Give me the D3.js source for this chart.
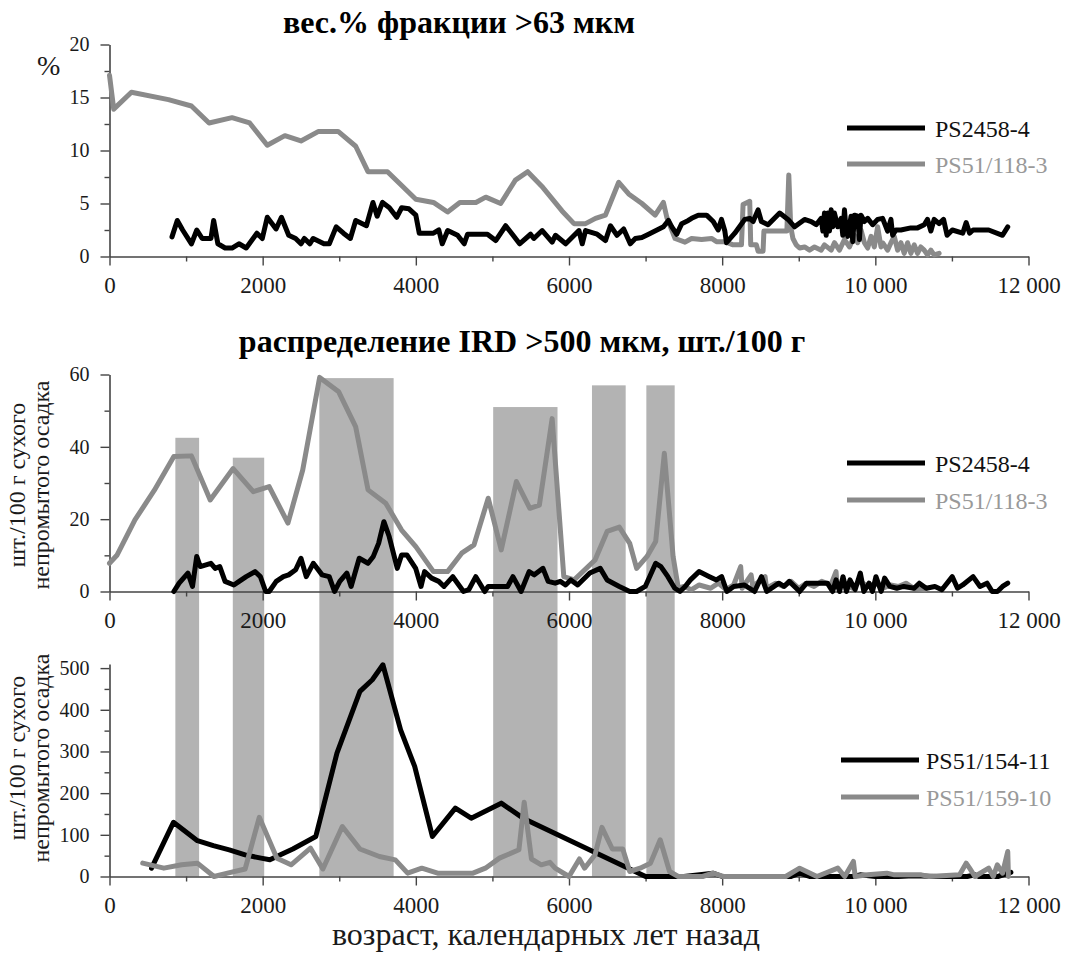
<!DOCTYPE html>
<html><head><meta charset="utf-8">
<script src="https://cdn.jsdelivr.net/npm/d3@7"></script>
<style>
body{margin:0;background:#fff;}
svg{display:block;}
svg text{font-family:"Liberation Serif","Times New Roman",serif;}
</style></head>
<body><svg id="c" width="1066" height="953"></svg>
<script>
// ---------- DATA ----------
const xTickValues = [0,2000,4000,6000,8000,10000,12000];
const xMinorTicks = [1000,3000,5000,7000,9000,11000];
const topYTicks = [0,5,10,15,20];
const midYTicks = [0,20,40,60];
const botYTicks = [0,100,200,300,400,500];

const titleTop = "вес.% фракции >63 мкм";
const titleMid = "распределение IRD >500 мкм, шт./100 г";
const xTitle = "возраст, календарных лет назад";
const yTitleLines = ["шт./100 г сухого","непромытого осадка"];
const legendTop = ["PS2458-4","PS51/118-3"];
const legendBot = ["PS51/154-11","PS51/159-10"];

// IRD shaded intervals: [start, end, top value in middle panel]
const bandStart = [860,1610,2740,5010,6300,7010];
const bandEnd   = [1170,2020,3710,5850,6740,7380];
const bandTop   = [42.5,37,59,51,57,57];

// Top panel: weight % >63 µm
const topBlackAge = [816,885,955,1070,1140,1210,1325,1360,1415,1510,1600,1690,1785,1925,1995,2060,2175,2245,2340,2430,2500,2545,2615,2660,2800,2870,2960,3055,3145,3215,3355,3440,3495,3565,3655,3750,3815,3910,4000,4045,4230,4300,4345,4416,4545,4632,4675,4935,5043,5173,5260,5355,5498,5541,5650,5780,5823,5957,6130,6173,6216,6368,6476,6541,6627,6714,6800,6866,6952,7039,7233,7298,7342,7407,7472,7558,7601,7688,7796,7883,7948,7991,8035,8056,8165,8295,8360,8404,8469,8512,8599,8751,8860,8946,9076,9163,9228,9293,9315,9336,9358,9380,9401,9423,9445,9466,9510,9553,9575,9597,9618,9640,9683,9705,9727,9770,9792,9813,9857,9900,9965,10030,10095,10160,10204,10226,10269,10334,10464,10551,10638,10681,10725,10768,10833,10891,10937,11005,11141,11186,11231,11276,11480,11661,11729];
const topBlackVal = [1.85,3.4,2.5,1.2,2.5,1.7,1.7,3.4,1.2,0.8,0.8,1.2,0.8,2.2,1.7,3.7,2.6,3.7,2.0,1.7,1.2,1.7,1.2,1.7,1.2,1.2,2.8,2.2,1.7,3.4,2.9,5.1,3.8,5.1,4.6,3.7,4.6,4.5,3.9,2.2,2.2,2.5,1.2,2.45,2.0,1.2,2.1,2.1,1.5,2.9,2.1,1.2,2.1,1.7,2.45,1.35,2.0,1.2,2.45,1.2,2.45,2.1,1.5,2.9,2.0,2.6,1.2,1.7,1.8,2.1,2.8,3.4,2.8,2.1,3.1,3.4,3.6,3.9,3.9,3.3,2.5,3.5,2.4,1.3,2.2,3.5,3.6,3.3,4.4,3.3,3.0,4.1,3.5,2.8,3.5,3.3,3.0,3.6,2.4,4.1,2.0,4.1,2.4,4.4,2.8,4.1,2.8,3.6,2.0,4.4,2.5,1.9,3.8,1.4,3.9,3.8,1.6,3.9,3.3,3.6,3.0,3.5,3.6,2.4,3.5,2.0,2.5,2.5,2.7,2.7,3.0,3.5,2.4,3.5,3.1,3.5,2.0,2.5,2.2,3.2,2.2,2.5,2.5,2.0,2.8];

const topGrayAge = [0,55,286,770,1070,1300,1600,1830,2060,2290,2500,2730,2985,3215,3375,3630,4000,4230,4415,4575,4784,4913,5108,5300,5460,5660,5909,6065,6216,6346,6476,6649,6779,6952,7125,7233,7277,7385,7515,7601,7731,7861,7926,8035,8143,8252,8273,8360,8373,8447,8469,8534,8545,8577,8729,8845,8870,8895,8924,8967,9011,9076,9141,9206,9293,9336,9423,9466,9531,9597,9662,9727,9770,9813,9857,9900,9944,9987,10030,10074,10095,10160,10204,10247,10291,10334,10377,10421,10464,10508,10551,10594,10638,10681,10725,10768,10833];
const topGrayVal = [17.1,13.9,15.5,14.8,14.2,12.6,13.1,12.6,10.5,11.4,10.9,11.8,11.8,10.4,8.0,8.0,5.4,5.1,4.2,5.1,5.1,5.6,5.0,7.2,8.0,6.5,4.3,3.1,3.1,3.6,3.9,7.0,5.9,5.0,3.9,5.1,3.7,1.7,1.35,1.7,1.6,1.7,1.4,1.4,1.1,1.1,4.9,5.2,1.1,1.1,0.5,0.5,2.4,2.4,2.4,2.4,7.7,2.8,1.7,1.1,0.8,0.9,0.6,0.9,0.6,1.1,0.6,1.3,0.6,1.6,0.9,2.0,1.3,2.5,1.3,0.8,1.9,0.9,2.8,0.9,1.3,0.6,1.3,1.9,0.6,1.3,0.3,1.3,0.3,1.1,0.3,0.9,0.6,0.15,0.6,0.15,0.3];

// Middle panel: IRD >500 µm
const midBlackAge = [840,909,1024,1084,1139,1185,1324,1380,1440,1509,1624,1693,1785,1900,1970,2039,2085,2177,2270,2339,2431,2500,2569,2661,2776,2869,2938,3007,3099,3155,3261,3376,3445,3514,3583,3652,3758,3814,3883,3998,4068,4114,4206,4299,4368,4483,4622,4691,4783,4899,4945,5198,5268,5374,5479,5547,5660,5728,5819,5887,5955,6023,6113,6272,6408,6498,6657,6793,6883,6996,7132,7200,7291,7381,7449,7517,7585,7698,7834,7925,7993,8061,8151,8287,8423,8514,8582,8740,8808,8876,9012,9102,9238,9374,9442,9487,9533,9578,9623,9669,9736,9804,9850,9918,9963,10008,10076,10121,10189,10280,10370,10506,10574,10665,10778,10869,11005,11073,11141,11276,11367,11458,11526,11594,11661,11729];
const midBlackVal = [0,2.3,5.1,1.4,9.7,6.9,7.8,6.4,6.9,2.8,1.8,2.8,4.1,5.5,4.1,0,0,2.8,4.1,4.6,6,9.2,4.1,7.8,4.6,4.1,0,2.8,5.1,1.4,9.2,7.8,9.7,13.3,19.3,15.2,6.4,10.1,10.1,6.4,1.4,5.5,3.7,2.8,1.4,4.1,0,0.5,4.1,0,1.4,1.4,4.1,0,5.5,4.6,6.4,2.8,2.3,2.8,1.8,3.2,1.8,5.1,6.4,3.2,1.4,0,0,1.4,7.8,6.9,4.1,0.9,0,1.4,3.2,5.5,4.1,3.2,4.1,0,1.4,1.8,0,4.1,0,2.3,1.4,2.8,0,2.3,2.3,2.3,0,3.2,0,4.1,0,3.2,0.5,5.1,0,2.3,0,4.1,0,3.7,1.4,0.9,1.4,0.9,2.3,0.9,1.4,0.5,4.1,0.9,1.8,4.1,1.4,2.3,0,0,1.4,2.3];

const midGrayAge = [0,100,332,586,840,1070,1315,1614,1877,2085,2330,2523,2744,2993,3215,3376,3607,3814,4000,4230,4414,4599,4760,4945,5115,5313,5489,5613,5780,5932,6068,6340,6498,6657,6793,6883,7019,7132,7245,7359,7427,7500,7600,7700,7850,7950,8050,8150,8242,8260,8378,8400,8560,8580,8700,8800,8900,9000,9100,9200,9300,9420,9487,9500,9600,9700,9800,9900,10000,10100,10200,10300,10400,10500,10650];
const midGrayVal = [7.8,10.1,19.8,28,37.3,37.5,25.3,34,27.6,29,18.9,33.6,59.2,55.2,45.5,28.1,24.4,17,12.4,5.5,5.5,10.6,12.9,25.8,11.5,30.4,23,23.9,47.8,4.1,3.2,8.7,16.6,17.8,13.3,6.4,9.7,13.8,38.2,9.7,0.9,1.4,0.5,1.8,0.9,2.3,0.5,1.8,6.9,0.9,4.6,1.4,4.1,0.9,2.3,1.4,2.8,0.9,2.3,1.4,2.8,1.8,5.5,1.4,2.3,0.9,2.8,1.4,2.3,0.9,1.8,1.4,2.3,0.9,0.5];

// Bottom panel
const botBlackAge = [549,835,1148,1356,1564,1771,1979,2094,2232,2394,2694,2970,3270,3432,3570,3801,3985,4216,4516,4723,5115,5400,7000,7500,7880,8000,8900,9010,9150,9700,9800,10000,10300,10500,10800,11200,11300,11350,11600,11700,11770];
const botBlackVal = [20,130,86,74,64,52,44,40,52,66,96,296,444,472,508,352,264,96,164,140,176,140,0,0,8,0,0,8,0,0,4,0,0,2,0,0,4,0,0,6,10];

const botGrayAge = [434,710,941,1148,1365,1541,1771,1956,2186,2371,2625,2786,3040,3270,3524,3732,3893,4078,4285,4539,4746,4908,5092,5346,5415,5510,5638,5751,5819,6000,6136,6204,6340,6430,6566,6702,6793,6928,7064,7191,7313,7427,7744,7879,8015,8830,9012,9238,9510,9600,9714,9737,9900,10150,10250,10600,10700,11100,11186,11231,11300,11480,11540,11593,11661,11729,11738];
const botGrayVal = [32,20,28,32,0,8,18,142,44,28,68,18,120,66,48,40,8,20,8,8,8,20,44,64,178,42,28,34,20,0,42,20,52,118,66,66,12,20,32,88,12,0,0,8,0,0,20,0,20,0,36,0,4,8,4,4,0,4,32,20,0,20,0,28,8,60,0];

// ---------- DRAWING ----------
const svg = d3.select("#c");
const FONT = '"Liberation Serif","Times New Roman",serif';
const BLACK = "#000", GRAY = "#8a8a8a", BAND = "#b3b3b3", AXIS = "#444", TXT = "#1a1a1a";

const x = d3.scaleLinear().domain([0,12000]).range([109.5,1028.5]);
const yTop = d3.scaleLinear().domain([0,20]).range([256.5,44.5]);
const yMid = d3.scaleLinear().domain([0,60]).range([591.5,374.5]);
const yBot = d3.scaleLinear().domain([0,510]).range([876.5,876.5-510*208.4/500]);

const fmtX = d => d >= 10000 ? String(Math.floor(d/1000)) + " " + String(d%1000).padStart(3,"0") : String(d);

svg.append("g").selectAll("rect").data(bandStart.map((s,i)=>({s, e:bandEnd[i], t:bandTop[i]})))
  .join("rect")
  .attr("x", d=>x(d.s)).attr("width", d=>x(d.e)-x(d.s))
  .attr("y", d=>yMid(d.t)).attr("height", d=>yBot(0)-yMid(d.t))
  .attr("fill", BAND);

function drawAxes(y, yTicks, yMinor){
  const g = svg.append("g");
  const y0 = y(0);
  const xa = g.append("g").attr("transform",`translate(0,${y0})`)
    .call(d3.axisBottom(x).tickValues(xTickValues).tickFormat(fmtX).tickSize(9).tickPadding(11).tickSizeOuter(0));
  g.append("g").attr("transform",`translate(0,${y0})`)
    .call(d3.axisBottom(x).tickValues(xMinorTicks).tickFormat("").tickSize(5))
    .select(".domain").remove();
  const ya = g.append("g").attr("transform",`translate(${x(0)},0)`)
    .call(d3.axisLeft(y).tickValues(yTicks).tickSize(9).tickPadding(11).tickSizeOuter(0));
  g.append("g").attr("transform",`translate(${x(0)},0)`)
    .call(d3.axisLeft(y).tickValues(yMinor).tickFormat("").tickSize(5))
    .select(".domain").remove();
  g.selectAll(".domain").attr("stroke",AXIS).attr("stroke-width",1.6);
  g.selectAll(".tick line").attr("stroke",AXIS).attr("stroke-width",1.4);
  xa.selectAll("text").style("font-family",FONT).style("font-size","23px").attr("fill",TXT);
  ya.selectAll("text").style("font-family",FONT).style("font-size","20px").attr("fill",TXT);
  return g;
}
drawAxes(yTop, topYTicks, [2.5,7.5,12.5,17.5]);
drawAxes(yMid, midYTicks, [10,30,50]);
drawAxes(yBot, botYTicks, [50,150,250,350,450]);

function drawLine(ages, vals, y, color){
  const line = d3.line().x(i=>x(ages[i])).y(i=>y(vals[i]));
  svg.append("path").attr("d", line(d3.range(ages.length)))
    .attr("fill","none").attr("stroke",color).attr("stroke-width",5)
    .attr("stroke-linejoin","round").attr("stroke-linecap","round");
}
drawLine(topGrayAge, topGrayVal, yTop, GRAY);
drawLine(topBlackAge, topBlackVal, yTop, BLACK);
drawLine(midGrayAge, midGrayVal, yMid, GRAY);
drawLine(midBlackAge, midBlackVal, yMid, BLACK);
drawLine(botBlackAge, botBlackVal, yBot, BLACK);
drawLine(botGrayAge, botGrayVal, yBot, GRAY);

function txt(xp, yp, s, size, opts={}){
  const t = svg.append("text").attr("x",xp).attr("y",yp).text(s)
    .style("font-family",FONT).style("font-size",size+"px").attr("fill",opts.fill||TXT);
  if(opts.anchor) t.attr("text-anchor",opts.anchor);
  if(opts.bold) t.style("font-weight","bold");
  return t;
}
txt(459,33,titleTop,32,{anchor:"middle",bold:true,fill:"#000"});
txt(522,352,titleMid,32,{anchor:"middle",bold:true,fill:"#000"});
txt(546,945,xTitle,32,{anchor:"middle"});
txt(37,75,"%",28);

[485,758].forEach(cy=>{
  const g = svg.append("g").attr("transform",`translate(0,${cy}) rotate(-90)`);
  yTitleLines.forEach((t,i)=>{
    g.append("text").attr("x",0).attr("y",25+i*24).attr("text-anchor","middle")
      .style("font-family",FONT).style("font-size","24px").attr("fill",TXT).text(t);
  });
});

function legend(names, x1, x2, tx, ys){
  const cols = [BLACK, GRAY], tcols = ["#111","#999"];
  names.forEach((n,i)=>{
    svg.append("line").attr("x1",x1).attr("x2",x2).attr("y1",ys[i]).attr("y2",ys[i])
      .attr("stroke",cols[i]).attr("stroke-width",5);
    txt(tx, ys[i]+9, n, 24, {fill:tcols[i]});
  });
}
legend(legendTop, 847, 925, 935, [128,164]);
legend(legendTop, 847, 925, 935, [463,500]);
legend(legendBot, 841, 919, 926, [760,797]);
</script>
</body></html>
